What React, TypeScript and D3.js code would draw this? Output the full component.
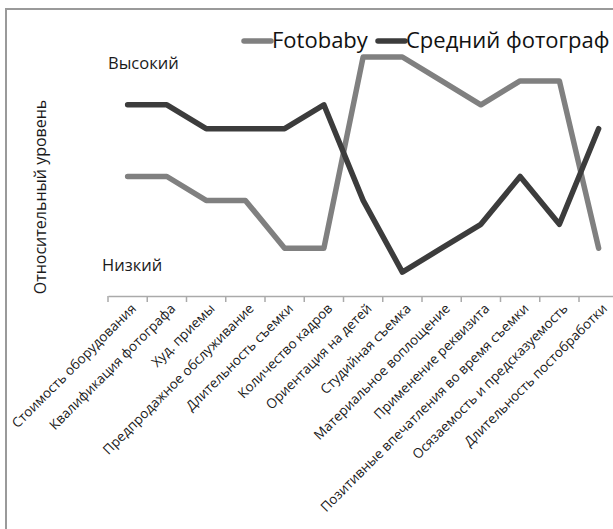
import { useEffect, useRef } from "react"
import * as d3 from "d3"

// Категории по оси X
const categories = [
  "Стоимость оборудования",
  "Квалификация фотографа",
  "Худ. приемы",
  "Предпродажное обслуживание",
  "Длительность съемки",
  "Количество кадров",
  "Ориентация на детей",
  "Студийная съемка",
  "Материальное воплощение",
  "Применение реквизита",
  "Позитивные впечатления во время съемки",
  "Осязаемость и предсказуемость",
  "Длительность постобработки",
]

const fotobaby = [5, 5, 4, 4, 2, 2, 10, 10, 9, 8, 9, 9, 2]
const average = [8, 8, 7, 7, 7, 8, 4, 1, 2, 3, 5, 3, 7]

const seriesNames = ["Fotobaby", "Средний фотограф"]
const seriesColors = ["#808080", "#3c3c3c"]

const FONT = "'Open Sans', 'DejaVu Sans', sans-serif"

export default function App() {
  const svgRef = useRef<SVGSVGElement>(null)

  useEffect(() => {
    if (!svgRef.current) return
    const svg = d3.select(svgRef.current)
    svg.selectAll("*").remove()

    const width = 613
    const height = 529

    svg.append("rect").attr("width", width).attr("height", height).attr("fill", "#fff")

    // Рамка (обрезана справа и снизу)
    svg
      .append("rect")
      .attr("x", 6)
      .attr("y", 9)
      .attr("width", 640)
      .attr("height", 560)
      .attr("fill", "none")
      .attr("stroke", "#9a9a9a")
      .attr("stroke-width", 2)

    // Шкалы
    const x = d3
      .scaleBand()
      .domain(categories)
      .range([108, 108 + 39.25 * categories.length])
    const y = d3.scaleLinear().domain([0, 10]).range([296, 57])

    const cx = (c: string) => x(c)! + x.bandwidth() / 2

    // Ось X
    const axis = svg
      .append("g")
      .attr("transform", `translate(0,296)`)
      .call(d3.axisBottom(x).tickSize(0).tickFormat(() => ""))
    axis.select(".domain").attr("stroke", "#aaa").attr("stroke-width", 1.5)

    const tickPos = d3.range(categories.length + 1).map((i) => 108 + i * x.step())
    svg
      .append("g")
      .selectAll("line")
      .data(tickPos)
      .enter()
      .append("line")
      .attr("x1", (d) => d)
      .attr("x2", (d) => d)
      .attr("y1", 296)
      .attr("y2", 302)
      .attr("stroke", "#aaa")
      .attr("stroke-width", 1.5)

    // Подписи категорий
    svg
      .append("g")
      .selectAll("text")
      .data(categories)
      .enter()
      .append("text")
      .attr("transform", (d) => `translate(${cx(d) + 6},${306}) rotate(-45)`)
      .attr("text-anchor", "end")
      .attr("dy", "0.35em")
      .style("font-family", FONT)
      .style("font-size", "13.5px")
      .attr("fill", "#1a1a1a")
      .text((d) => d)

    // Линии
    const line = d3
      .line<number>()
      .x((_, i) => cx(categories[i]))
      .y((d) => y(d))

    ;[fotobaby, average].forEach((s, i) => {
      svg
        .append("path")
        .datum(s)
        .attr("d", line)
        .attr("fill", "none")
        .attr("stroke", seriesColors[i])
        .attr("stroke-width", 5.5)
        .attr("stroke-linejoin", "round")
        .attr("stroke-linecap", "round")
    })

    // Подписи уровней
    svg
      .append("text")
      .attr("x", 108)
      .attr("y", 69)
      .style("font-family", FONT)
      .style("font-size", "16.5px")
      .attr("fill", "#1a1a1a")
      .text("Высокий")
    svg
      .append("text")
      .attr("x", 102)
      .attr("y", 271)
      .style("font-family", FONT)
      .style("font-size", "16.5px")
      .attr("fill", "#1a1a1a")
      .text("Низкий")

    // Заголовок оси Y
    svg
      .append("text")
      .attr("transform", `translate(46,197) rotate(-90)`)
      .attr("text-anchor", "middle")
      .style("font-family", FONT)
      .style("font-size", "16px")
      .attr("fill", "#1a1a1a")
      .text("Относительный уровень")

    // Легенда
    const legendX = [243, 377]
    seriesNames.forEach((name, i) => {
      const g = svg.append("g").attr("transform", `translate(${legendX[i]},41)`)
      g.append("line")
        .attr("x1", 1)
        .attr("x2", 28)
        .attr("stroke", seriesColors[i])
        .attr("stroke-width", 5.5)
        .attr("stroke-linecap", "round")
      g.append("text")
        .attr("x", 29)
        .attr("y", 7)
        .style("font-family", FONT)
        .style("font-size", "22px")
        .attr("fill", "#111")
        .text(name)
    })
  }, [])

  return (
    <svg
      ref={svgRef}
      width={613}
      height={529}
      style={{ position: "absolute", left: 0, top: 0 }}
    />
  )
}
